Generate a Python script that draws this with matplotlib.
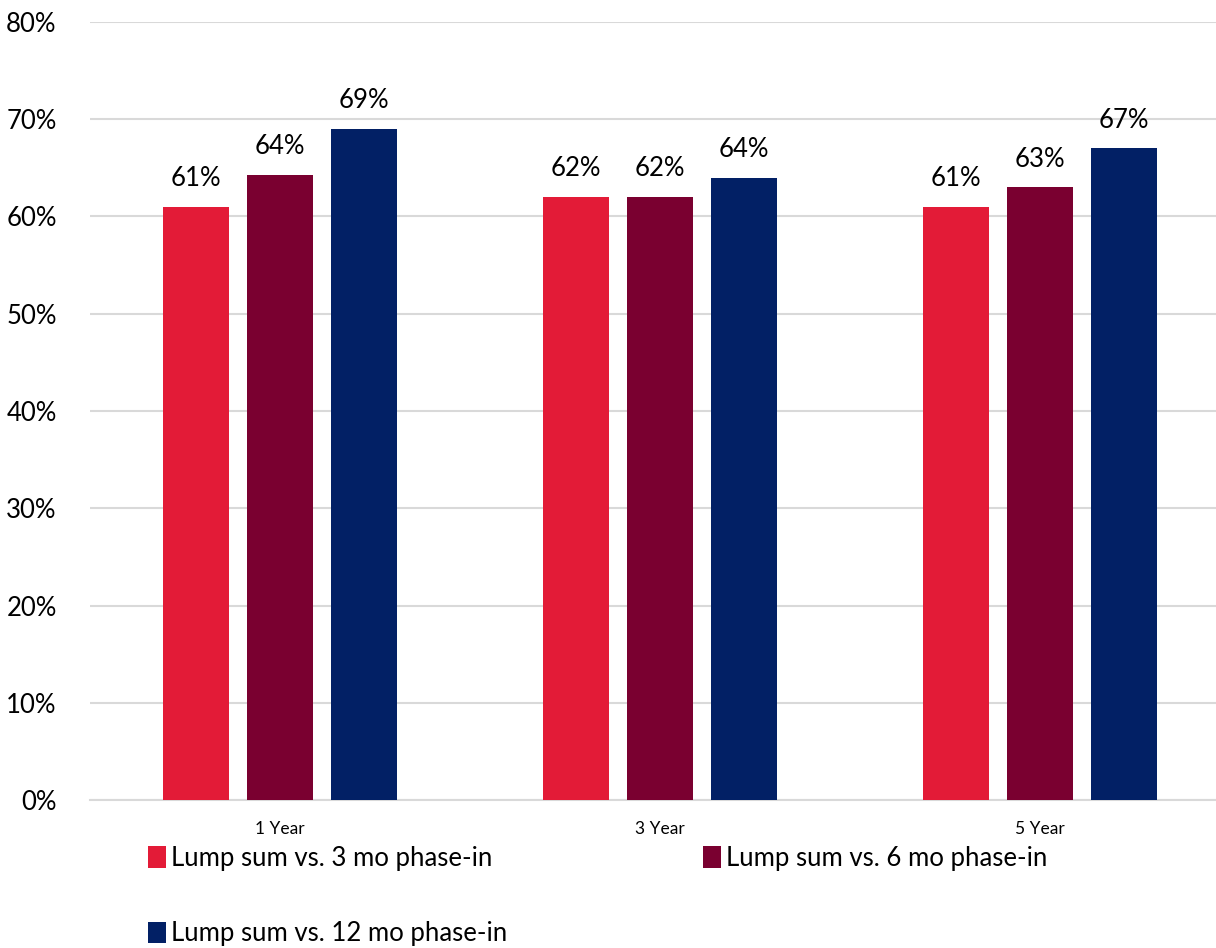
import numpy as np
import matplotlib.pyplot as plt

categories = ['1 Year', '3 Year', '5 Year']
series_names = ['Lump sum vs. 3 mo phase-in', 'Lump sum vs. 6 mo phase-in',
                'Lump sum vs. 12 mo phase-in']
vals_3mo = [61, 62, 61]
vals_6mo = [64.3, 62, 63]
vals_12mo = [69, 64, 67]
colors = ['#E31B37', '#7A0030', '#022065']

plt.rcParams['font.family'] = ['Lato', 'DejaVu Sans']

fig = plt.figure(figsize=(12.16, 9.48), dpi=100)
ax = fig.add_axes([90/1216, (948-800)/948, 1140/1216, 778/948])

x = np.arange(len(categories))
w = 66/380
step = 84/380
handles = []
for i, vals in enumerate([vals_3mo, vals_6mo, vals_12mo]):
    b = ax.bar(x + (i-1)*step, vals, w, color=colors[i], label=series_names[i], zorder=3)
    handles.append(b)
    for xi, v in zip(x + (i-1)*step, vals):
        ax.text(xi, v + 1.6, '%d%%' % round(v), ha='center', va='bottom', fontsize=18.5)

ax.set_xlim(-0.5, 2.5)
ax.set_ylim(0, 80)
ax.set_yticks(np.arange(0, 81, 10))
ax.set_yticklabels(['%d%%' % t for t in range(0, 81, 10)], fontsize=18.5)
ax.set_xticks(x)
ax.set_xticklabels(categories, fontsize=12.5)
ax.tick_params(axis='x', length=0, pad=15)
ax.tick_params(axis='y', length=0, pad=24)
ax.grid(axis='y', color='#D9D9D9', lw=1.5, zorder=0)
for s in ['top', 'right', 'left']:
    ax.spines[s].set_visible(False)
ax.spines['bottom'].set_color('#D9D9D9')
ax.spines['bottom'].set_linewidth(1.5)

# legend filled column-wise, so reorder to read row by row
order = [0, 2, 1]
fig.legend(handles=[handles[k] for k in order], labels=[series_names[k] for k in order],
           loc='upper left', bbox_to_anchor=(148/1216, (948-846)/948), ncol=2,
           frameon=False, fontsize=18.5, handlelength=0.7, handleheight=0.9,
           handletextpad=0.2, columnspacing=7.6, labelspacing=1.95,
           borderpad=0, borderaxespad=0)

fig.savefig('out.png', dpi=100)
